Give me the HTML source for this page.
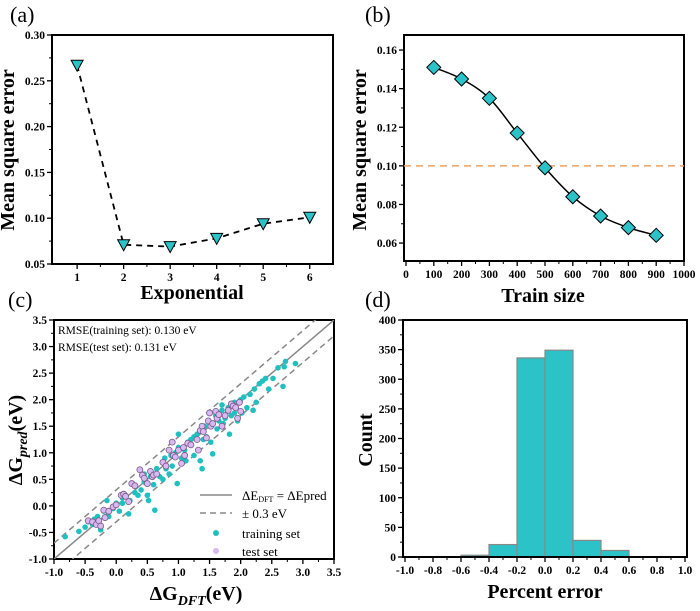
<!DOCTYPE html>
<html><head><meta charset="utf-8"><style>
body{margin:0;background:#fff}
svg{display:block;font-family:"Liberation Serif",serif}
</style></head><body>
<svg id="s" width="700" height="611" xmlns="http://www.w3.org/2000/svg"></svg>
<script>
// ---- data ----
const aX=[1,2,3,4,5,6];
const aY=[0.267,0.071,0.069,0.078,0.094,0.101];
const bX=[100,200,300,400,500,600,700,800,900];
const bY=[0.151,0.145,0.135,0.117,0.099,0.084,0.074,0.068,0.064];
const bThreshold=0.10;
const cTrain=[[-0.82,-0.58],[-0.6,-0.48],[-0.5,-0.4],[-0.45,-0.3],[-0.38,-0.35],[-0.3,-0.2],[-0.25,-0.45],[-0.2,-0.1],[-0.15,0.1],[-0.12,-0.2],[-0.05,-0.05],[0.0,0.05],[0.05,-0.1],[0.1,0.15],[0.15,0.2],[0.2,-0.15],[0.22,0.1],[0.3,0.25],[0.35,0.2],[0.4,0.3],[0.45,0.45],[0.5,0.2],[0.52,0.1],[0.55,0.55],[0.6,0.4],[0.62,-0.08],[0.65,0.7],[0.7,0.55],[0.75,0.5],[0.78,0.9],[0.8,0.7],[0.85,0.6],[0.88,0.95],[0.9,0.75],[0.95,1.0],[0.98,0.42],[1.0,1.1],[1.05,0.9],[1.1,1.05],[1.12,0.85],[1.15,1.2],[1.2,1.25],[1.25,0.95],[1.3,1.35],[1.35,0.85],[1.38,0.7],[1.4,1.25],[1.42,1.5],[1.45,1.3],[1.5,1.55],[1.52,1.2],[1.55,0.98],[1.6,1.7],[1.62,1.45],[1.65,1.6],[1.7,1.8],[1.72,1.55],[1.75,1.65],[1.8,1.85],[1.82,1.35],[1.85,1.7],[1.9,1.95],[1.95,1.6],[2.0,2.0],[2.02,1.75],[2.05,2.05],[2.1,1.85],[2.15,2.1],[2.2,1.8],[2.22,2.2],[2.25,1.95],[2.3,2.3],[2.35,2.35],[2.4,2.4],[2.45,2.2],[2.52,2.4],[2.6,2.6],[2.68,2.25],[2.7,2.62],[2.72,2.72],[2.88,2.68],[1.0,1.35],[0.45,0.6],[1.25,1.3],[1.7,1.9],[1.9,1.75],[0.1,0.05],[-0.35,-0.25]];
const cTest=[[-0.45,-0.28],[-0.38,-0.3],[-0.32,-0.35],[-0.28,-0.28],[-0.25,-0.38],[-0.2,-0.08],[-0.18,-0.22],[-0.12,-0.1],[-0.05,-0.02],[0.0,0.02],[0.08,0.2],[0.12,0.22],[0.15,0.18],[0.2,0.08],[0.25,0.42],[0.3,0.38],[0.38,0.68],[0.42,0.58],[0.45,0.52],[0.5,0.42],[0.55,0.65],[0.58,0.55],[0.6,0.58],[0.65,0.6],[0.75,0.82],[0.8,0.75],[0.85,1.05],[0.9,1.2],[0.92,0.95],[0.95,0.92],[1.0,1.05],[1.05,0.8],[1.08,1.1],[1.1,0.95],[1.15,1.18],[1.2,1.15],[1.3,1.25],[1.32,1.05],[1.35,1.42],[1.38,1.5],[1.4,1.4],[1.45,1.28],[1.48,1.6],[1.5,1.75],[1.52,1.5],[1.55,1.55],[1.6,1.78],[1.62,1.65],[1.65,1.72],[1.7,1.5],[1.75,1.7],[1.8,1.8],[1.85,1.92],[1.88,1.88],[1.92,1.85],[1.95,1.65],[1.98,1.95],[2.0,1.78]];
const dBinStart=[-0.6,-0.4,-0.2,0.0,0.2,0.4];
const dCounts=[3,21,336,349,28,11];
const dBinWidth=0.2;
const aYTicks=[0.05,0.10,0.15,0.20,0.25,0.30];
const bYTicks=[0.06,0.08,0.10,0.12,0.14,0.16];
const bXTicks=[0,100,200,300,400,500,600,700,800,900,1000];
const cTicks=[-1.0,-0.5,0.0,0.5,1.0,1.5,2.0,2.5,3.0,3.5];
const dXTicks=[-1.0,-0.8,-0.6,-0.4,-0.2,0.0,0.2,0.4,0.6,0.8,1.0];
const dYTicks=[0,50,100,150,200,250,300,350,400];

const S=document.getElementById('s');
const NS='http://www.w3.org/2000/svg';
function el(tag,at,txt){const e=document.createElementNS(NS,tag);for(const k in at)e.setAttribute(k,at[k]);if(txt!==undefined)e.textContent=txt;S.appendChild(e);return e;}
function lin(d0,d1,r0,r1){return v=>r0+(v-d0)/(d1-d0)*(r1-r0);}

function frame(L,T,R,B,name){
  const e=el('rect',{x:L,y:T,width:R-L,height:B-T,fill:'none',stroke:'#000','stroke-width':2});
  
  
}
function xTicks(ticks,sx,B,fmt,name,minor){
  ticks.forEach((t,i)=>{
    el('line',{x1:sx(t),x2:sx(t),y1:B,y2:B+5,stroke:'#000','stroke-width':1.3});
    if(minor&&i<ticks.length-1){const m=(t+ticks[i+1])/2;el('line',{x1:sx(m),x2:sx(m),y1:B,y2:B+3,stroke:'#000','stroke-width':1});}
    const tx=el('text',{x:sx(t),y:B+17,'text-anchor':'middle','font-size':11.5,'font-weight':'bold'},fmt(t));
    
    
  });
}
function yTicks(ticks,sy,L,fmt,name,minor){
  ticks.forEach((t,i)=>{
    el('line',{x1:L-5,x2:L,y1:sy(t),y2:sy(t),stroke:'#000','stroke-width':1.3});
    if(minor&&i<ticks.length-1){const m=(t+ticks[i+1])/2;el('line',{x1:L-3,x2:L,y1:sy(m),y2:sy(m),stroke:'#000','stroke-width':1});}
    const tx=el('text',{x:L-7,y:sy(t)+4,'text-anchor':'end','font-size':11.5,'font-weight':'bold'},fmt(t));
    
    
  });
}
function title(x,y,txt,rot,name,size){
  const at={x:x,y:y,'text-anchor':'middle','font-size':size||20,'font-weight':'bold'};
  if(rot)at.transform=`rotate(-90 ${x} ${y})`;
  const t=el('text',at,txt);
  
  
  return t;
}
function plabel(x,y,txt,name){
  const t=el('text',{x:x,y:y,'font-size':22},txt);
  
  
}

// ---- panel a ----
{
  const L=52,T=35,R=333,B=264;
  const sx=lin(0.46,6.5,L,R), sy=lin(0.05,0.30,B,T);
  frame(L,T,R,B,'panel-a-frame');
  xTicks(aX,sx,B,v=>String(v),'a-x-tick-label',true);
  yTicks(aYTicks,sy,L,v=>v.toFixed(2),'a-y-tick-label',true);
  const p=el('polyline',{points:aX.map((x,i)=>sx(x)+','+sy(aY[i])).join(' '),fill:'none',stroke:'#000','stroke-width':1.8,'stroke-dasharray':'6,5'});
  
  
  aX.forEach((x,i)=>{
    const cx=sx(x),cy=sy(aY[i]);
    const m=el('polygon',{points:`${cx-6},${cy-5} ${cx+6},${cy-5} ${cx},${cy+6}`,fill:'#2bc3c8',stroke:'#000','stroke-width':1});
    
    
  });
  plabel(10,22,'(a)','panel-a-label');
  title(14,150,'Mean square error',true,'a-y-axis-title');
  title(192,299,'Exponential',false,'a-x-axis-title');
}
// ---- panel b ----
{
  const L=404,T=35,R=684,B=261;
  const sx=lin(0,1000,L+2,R), sy=lin(0.0507,0.1678,B,T);
  frame(L,T,R,B,'panel-b-frame');
  xTicks(bXTicks,sx,B,v=>String(v),'b-x-tick-label',true);
  yTicks(bYTicks,sy,L,v=>v.toFixed(2),'b-y-tick-label',true);
  const th=el('line',{x1:L,x2:R,y1:sy(bThreshold),y2:sy(bThreshold),stroke:'#f0a060','stroke-width':1.5,'stroke-dasharray':'7,5'});
  
  
  const pts=bX.map((x,i)=>[sx(x),sy(bY[i])]);
  let d='M'+pts[0].join(',');
  for(let i=0;i<pts.length-1;i++){
    const p0=pts[i-1]||pts[i],p1=pts[i],p2=pts[i+1],p3=pts[i+2]||p2;
    d+=` C${p1[0]+(p2[0]-p0[0])/6},${p1[1]+(p2[1]-p0[1])/6} ${p2[0]-(p3[0]-p1[0])/6},${p2[1]-(p3[1]-p1[1])/6} ${p2[0]},${p2[1]}`;
  }
  const ln=el('path',{d:d,fill:'none',stroke:'#000','stroke-width':1.5});
  
  
  pts.forEach(([cx,cy])=>{
    const m=el('polygon',{points:`${cx},${cy-7} ${cx+7},${cy} ${cx},${cy+7} ${cx-7},${cy}`,fill:'#2bc3c8',stroke:'#000','stroke-width':1});
    
    
  });
  plabel(365,22,'(b)','panel-b-label');
  title(366,150,'Mean square error',true,'b-y-axis-title');
  title(543,302,'Train size',false,'b-x-axis-title');
}
// ---- panel c ----
{
  const L=54,T=320,R=334,B=559;
  const sx=lin(-1,3.5,L,R), sy=lin(-1,3.5,B,T);
  frame(L,T,R,B,'panel-c-frame');
  xTicks(cTicks,sx,B,v=>v.toFixed(1),'c-x-tick-label',true);
  yTicks(cTicks,sy,L,v=>v.toFixed(1),'c-y-tick-label',true);
  const clip=el('clipPath',{id:'cc'});clip.appendChild(document.createElementNS(NS,'rect'));
  const cr=clip.firstChild;cr.setAttribute('x',L);cr.setAttribute('y',T);cr.setAttribute('width',R-L);cr.setAttribute('height',B-T);
  [[0,'none','c-identity-line'],[0.3,'6,4','c-upper-band'],[-0.3,'6,4','c-lower-band']].forEach(([o,da,n])=>{
    const l=el('line',{x1:sx(-1),y1:sy(-1+o),x2:sx(3.5),y2:sy(3.5+o),stroke:'#888','stroke-width':1.5,'stroke-dasharray':da,'clip-path':'url(#cc)'});
    
    
  });
  cTrain.forEach(([x,y])=>{
    const c=el('circle',{cx:sx(x),cy:sy(y),r:2.8,fill:'#20c0c0'});
    
    
  });
  cTest.forEach(([x,y])=>{
    const c=el('circle',{cx:sx(x),cy:sy(y),r:3,fill:'#d8b8f0',stroke:'#7a5a8a','stroke-width':0.8});
    
    
  });
  const t1=el('text',{x:58,y:334,'font-size':11.5},'RMSE(training set): 0.130 eV');
  
  const t2=el('text',{x:58,y:351,'font-size':11.5},'RMSE(test set): 0.131 eV');
  
  // legend
  const lg=[[495,'c-legend-identity'],[513,'c-legend-band'],[534,'c-legend-training'],[552,'c-legend-test']];
  let e;
  e=el('line',{x1:200,x2:232,y1:495,y2:495,stroke:'#888','stroke-width':1.5});
  e=el('line',{x1:200,x2:232,y1:513,y2:513,stroke:'#888','stroke-width':1.5,'stroke-dasharray':'6,4'});
  e=el('circle',{cx:216,cy:533,r:3,fill:'#20c0c0'});
  e=el('circle',{cx:216,cy:551,r:3,fill:'#d8b8f0'});
  e=el('text',{x:242,y:500,'font-size':13});e.innerHTML='ΔE<tspan font-size="8" dy="2">DFT</tspan><tspan dy="-2"> = ΔEpred</tspan>';
  e=el('text',{x:242,y:518,'font-size':13},'± 0.3 eV');
  e=el('text',{x:242,y:538,'font-size':13},'training set');
  e=el('text',{x:242,y:556,'font-size':13},'test set');
  plabel(8,307,'(c)','panel-c-label');
  e=el('text',{x:22,y:440,'text-anchor':'middle','font-size':20,'font-weight':'bold',transform:'rotate(-90 22 440)'});
  e.innerHTML='ΔG<tspan font-style="italic" font-size="14" dy="5">pred</tspan><tspan dy="-5">(eV)</tspan>';
  
  e=el('text',{x:196,y:600,'text-anchor':'middle','font-size':20,'font-weight':'bold'});
  e.innerHTML='ΔG<tspan font-style="italic" font-size="14" dy="5">DFT</tspan><tspan dy="-5">(eV)</tspan>';
  
}
// ---- panel d ----
{
  const L=403,T=320,R=687,B=557;
  const sx=lin(-1,1,L+2,R-2), sy=lin(0,400,B,T);
  dBinStart.forEach((x0,i)=>{
    const r=el('rect',{x:sx(x0),y:sy(dCounts[i]),width:sx(x0+dBinWidth)-sx(x0),height:B-sy(dCounts[i]),fill:'#2bc3c8',stroke:'#888','stroke-width':1.2});
    
    
  });
  frame(L,T,R,B,'panel-d-frame');
  xTicks(dXTicks,sx,B,v=>v.toFixed(1),'d-x-tick-label',true);
  yTicks(dYTicks,sy,L,v=>String(v),'d-y-tick-label',true);
  plabel(365,307,'(d)','panel-d-label');
  title(372,440,'Count',true,'d-y-axis-title');
  title(545,598,'Percent error',false,'d-x-axis-title');
}
</script>
</body></html>
